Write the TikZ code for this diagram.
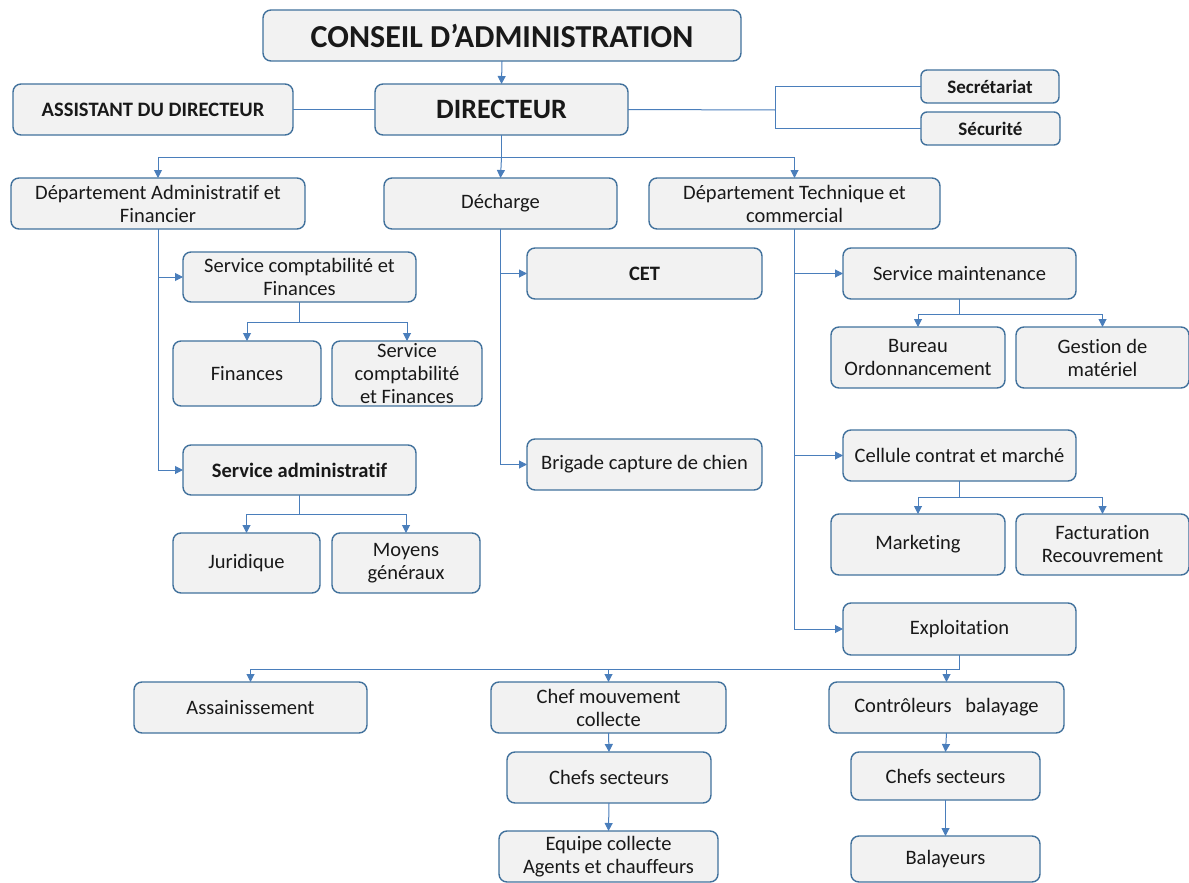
\documentclass[tikz,border=0pt]{standalone}
\usepackage{fontspec}
\setmainfont[Ligatures={NoCommon}]{Carlito}
\usetikzlibrary{arrows.meta}
\definecolor{boxfill}{HTML}{F2F2F2}
\definecolor{boxline}{HTML}{41719C}
\definecolor{conn}{HTML}{4A7EBB}
\tikzset{
  box/.style={draw=boxline, fill=boxfill, line width=1.4pt, rounded corners=8pt,
    inner sep=0pt, outer sep=0pt, align=center, font=\fontsize{20.5}{23}\selectfont, text=black!90},
  bbox/.style={box, font=\fontsize{20.5}{23}\selectfont\bfseries},
  conline/.style={draw=conn, line width=1pt},
  arr/.style={conline, -{Triangle[width=8pt,length=8pt]}},
}
\newcommand\bx[7]{\node[#6, minimum width={(#4-#2)*1pt}, minimum height={(#5-#3)*1pt}] (#1) at ({(#2+#4)/2},{-(#3+#5)/2}) {#7};}
\begin{document}
\begin{tikzpicture}[x=1pt,y=1pt]
\useasboundingbox (0,0) rectangle (1189,-883);
% top
\bx{conseil}{263}{10}{741}{61}{box,font=\fontsize{32}{36}\selectfont\bfseries}{CONSEIL D’ADMINISTRATION}
\bx{assist}{13}{84}{293}{135}{bbox}{ASSISTANT DU DIRECTEUR}
\bx{dir}{375}{84}{628}{135}{box,font=\fontsize{28}{32}\selectfont\bfseries}{DIRECTEUR}
\bx{secr}{921}{70}{1059}{103}{bbox,font=\fontsize{19}{22}\selectfont\bfseries,rounded corners=6pt}{Secrétariat}
\bx{secu}{921}{112}{1060}{145}{bbox,font=\fontsize{19}{22}\selectfont\bfseries,rounded corners=6pt}{Sécurité}
% departments
\bx{daf}{11}{178}{305}{229}{box}{Département Administratif et\\Financier}
\bx{dech}{384}{178}{617}{229}{box}{Décharge}
\bx{dtc}{649}{178}{940}{229}{box}{Département Technique et\\commercial}
% DAF children
\bx{scf}{183}{252}{416}{302}{box}{Service comptabilité et\\Finances}
\bx{fin}{173}{341}{321}{406}{box}{Finances}
\bx{scf2}{332}{341}{482}{406}{box}{Service\\comptabilité\\et Finances}
\bx{sadm}{183}{445}{416}{495}{bbox}{Service administratif}
\bx{jur}{173}{533}{320}{593}{box}{Juridique}
\bx{moy}{332}{533}{480}{593}{box}{Moyens\\généraux}
% Decharge children
\bx{cet}{527}{248}{762}{299}{bbox}{CET}
\bx{brig}{527}{439}{762}{490}{box}{Brigade capture de chien}
% DTC children
\bx{maint}{843}{248}{1076}{299}{box}{Service maintenance}
\bx{bur}{831}{327}{1005}{388}{box}{Bureau\\Ordonnancement}
\bx{gest}{1016}{327}{1189}{388}{box}{Gestion de\\matériel}
\bx{cell}{843}{430}{1076}{481}{box}{Cellule contrat et marché}
\bx{mark}{831}{514}{1005}{575}{box}{Marketing}
\bx{fact}{1016}{514}{1189}{575}{box}{Facturation\\Recouvrement}
\bx{expl}{843}{603}{1076}{655}{box}{Exploitation}
% Exploitation children
\bx{assain}{134}{682}{367}{733}{box}{Assainissement}
\bx{chefm}{491}{682}{726}{733}{box}{Chef mouvement\\collecte}
\bx{chefs1}{507}{752}{711}{803}{box}{Chefs secteurs}
\bx{equipe}{499}{831}{718}{882}{box}{Equipe collecte\\Agents et chauffeurs}
\bx{contr}{829}{682}{1064}{733}{box}{Contrôleurs~~ balayage}
\bx{chefs2}{851}{752}{1040}{800}{box}{Chefs secteurs}
\bx{balay}{851}{836}{1040}{882}{box}{Balayeurs}
% connectors
\draw[arr] (conseil.south) -- (dir.north);
\draw[conline] (assist.east) -- (dir.west);
\draw[conline] (dir.east) -- (775,-110) coordinate (jr);
\draw[conline] (jr) |- (secr.west);
\draw[conline] (jr) |- (secu.west);
\draw[conline] (dir.south) -- ++(0,-22) coordinate (jd);
\draw[arr] (jd) -| (daf.north);
\draw[arr] (jd) -- (dech.north);
\draw[arr] (jd) -| (dtc.north);
% DAF
\draw[arr] (daf.south) |- (scf.west);
\draw[arr] (daf.south) |- (sadm.west);
\draw[conline] (scf.south) -- ++(0,-20) coordinate (js);
\draw[arr] (js) -| (fin.north);
\draw[arr] (js) -| (scf2.north);
\draw[conline] (sadm.south) -- ++(0,-19) coordinate (ja);
\draw[arr] (ja) -| (jur.north);
\draw[arr] (ja) -| (moy.north);
% Decharge
\draw[arr] (dech.south) |- (cet.west);
\draw[arr] (dech.south) |- (brig.west);
% DTC
\draw[arr] (dtc.south) |- (maint.west);
\draw[arr] (dtc.south) |- (cell.west);
\draw[arr] (dtc.south) |- (expl.west);
\draw[conline] (maint.south) -- ++(0,-15) coordinate (jm);
\draw[arr] (jm) -| (bur.north);
\draw[arr] (jm) -| (gest.north);
\draw[conline] (cell.south) -- ++(0,-16) coordinate (jc);
\draw[arr] (jc) -| (mark.north);
\draw[arr] (jc) -| (fact.north);
% Exploitation
\draw[conline] (expl.south) -- ++(0,-14) coordinate (je);
\draw[arr] (je) -| (assain.north);
\draw[arr] (je) -| (chefm.north);
\draw[arr] (je) -| (contr.north);
\draw[arr] (chefm.south) -- (chefs1.north);
\draw[arr] (chefs1.south) -- (equipe.north);
\draw[arr] (contr.south) -- (chefs2.north);
\draw[arr] (chefs2.south) -- (balay.north);
\end{tikzpicture}
\end{document}
